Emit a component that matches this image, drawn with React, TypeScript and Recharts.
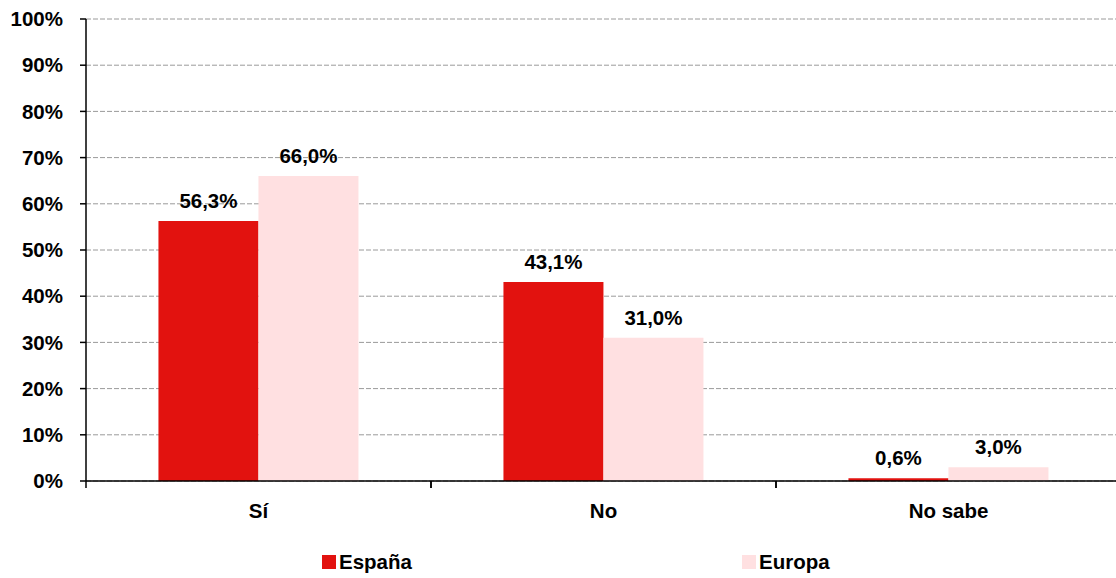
import React from "react";
import {
  BarChart,
  Bar,
  XAxis,
  YAxis,
  CartesianGrid,
  Legend,
  LabelList,
} from "recharts";

const categories = ["Sí", "No", "No sabe"];
const espana = [56.3, 43.1, 0.6];
const europa = [66.0, 31.0, 3.0];
const yTicks = [0, 10, 20, 30, 40, 50, 60, 70, 80, 90, 100];

const CHART_W = 1121;
const CHART_H = 578;
const Y_AXIS_W = 86;
const FONT = "'Liberation Sans', Arial, sans-serif";
const FS = 20.5;
const RED = "#E2120F";
const PINK = "#FFE0E1";

const data = categories.map((name, i) => ({
  name,
  espana: espana[i],
  europa: europa[i],
}));

const band = (CHART_W - Y_AXIS_W) / categories.length;

const fmtLabel = (v: any) => `${Number(v).toFixed(1).replace(".", ",")}%`;

function CategoryTick(props: any) {
  const { x, y, payload } = props;
  const half = band / 2;
  return (
    <g>
      <line x1={x - half} x2={x - half} y1={y} y2={y + 7} stroke="#000" strokeWidth={1.5} />
      <line x1={x + half} x2={x + half} y1={y} y2={y + 7} stroke="#000" strokeWidth={1.5} />
      <text
        x={x}
        y={y + 37}
        textAnchor="middle"
        fontFamily={FONT}
        fontWeight="bold"
        fontSize={FS}
        fill="#000"
      >
        {payload.value}
      </text>
    </g>
  );
}

function LegendBox() {
  const items = [
    { label: "España", color: RED, left: 322 },
    { label: "Europa", color: PINK, left: 742 },
  ];
  return (
    <div style={{ position: "relative", width: 1116, height: 24 }}>
      {items.map((it) => (
        <div
          key={it.label}
          style={{
            position: "absolute",
            left: it.left,
            top: 0,
            height: 24,
            display: "flex",
            alignItems: "center",
            fontFamily: FONT,
            fontWeight: "bold",
            fontSize: FS,
            color: "#000",
          }}
        >
          <span
            style={{
              display: "inline-block",
              width: 14,
              height: 14,
              background: it.color,
              marginRight: 3,
            }}
          />
          {it.label}
        </div>
      ))}
    </div>
  );
}

export default function App() {
  return (
    <div
      style={{
        position: "absolute",
        left: 0,
        top: 0,
        width: 1116,
        height: CHART_H,
        overflow: "hidden",
        background: "#fff",
      }}
    >
      <BarChart
        width={CHART_W}
        height={CHART_H}
        data={data}
        margin={{ top: 19, right: 0, left: 0, bottom: 23 }}
        barCategoryGap="21%"
        barGap={0}
      >
        <CartesianGrid vertical={false} strokeDasharray="5 2" stroke="#9a9a9a" />
        <XAxis
          dataKey="name"
          height={50}
          tickSize={0}
          tickMargin={0}
          tickLine={false}
          axisLine={{ stroke: "#000", strokeWidth: 1.5 }}
          tick={<CategoryTick />}
          interval={0}
        />
        <YAxis
          width={Y_AXIS_W}
          domain={[0, 100]}
          ticks={yTicks}
          tickFormatter={(v) => `${v}%`}
          tickSize={6}
          tickMargin={17}
          axisLine={{ stroke: "#000", strokeWidth: 1.5 }}
          tickLine={{ stroke: "#000", strokeWidth: 1.5 }}
          tick={{ fill: "#000", fontFamily: FONT, fontWeight: "bold", fontSize: FS }}
          interval={0}
        />
        <Legend
          verticalAlign="bottom"
          content={() => <LegendBox />}
          wrapperStyle={{ left: 0, bottom: 4, width: 1116, height: 24 }}
        />
        <Bar dataKey="espana" name="España" fill={RED} isAnimationActive={false}>
          <LabelList
            dataKey="espana"
            position="top"
            offset={13}
            formatter={fmtLabel}
            style={{ fill: "#000", fontFamily: FONT, fontWeight: "bold", fontSize: FS }}
          />
        </Bar>
        <Bar dataKey="europa" name="Europa" fill={PINK} isAnimationActive={false}>
          <LabelList
            dataKey="europa"
            position="top"
            offset={13}
            formatter={fmtLabel}
            style={{ fill: "#000", fontFamily: FONT, fontWeight: "bold", fontSize: FS }}
          />
        </Bar>
      </BarChart>
    </div>
  );
}
